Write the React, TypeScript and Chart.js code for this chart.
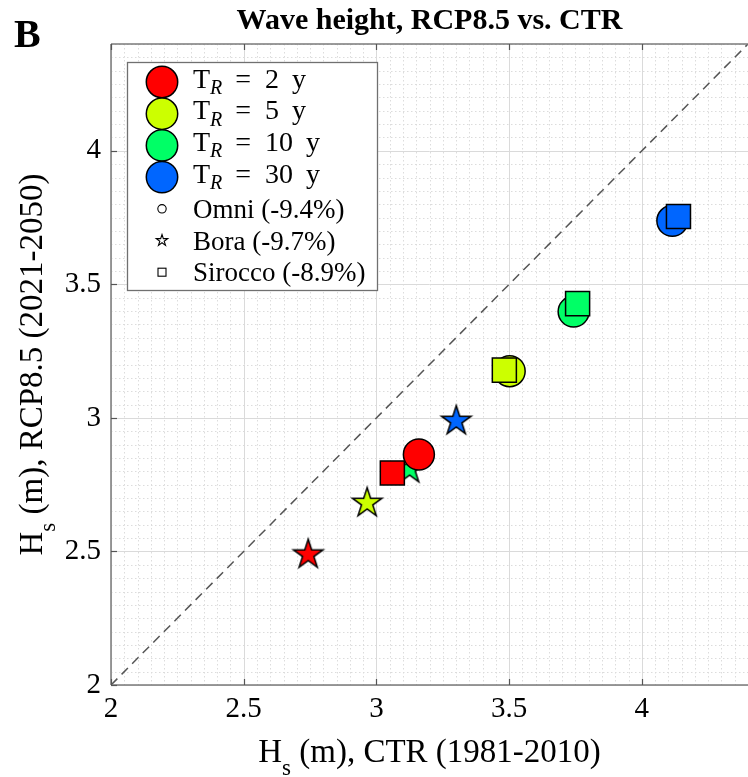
import React, { useEffect, useRef } from 'react';
import { Chart, registerables } from 'chart.js';

Chart.register(...registerables);

// ---------------- data ----------------
const returnPeriods = ['2', '5', '10', '30'];
const periodColors = ['#FF0000', '#CCFF00', '#00FF66', '#0066FF'];

const omniCTR = [3.16, 3.502, 3.743, 4.115];
const omniRCP = [2.863, 3.175, 3.398, 3.738];
const boraCTR = [2.743, 2.965, 3.125, 3.301];
const boraRCP = [2.488, 2.681, 2.808, 2.988];
const siroccoCTR = [3.06, 3.482, 3.758, 4.138];
const siroccoRCP = [2.794, 3.179, 3.428, 3.754];

const directionLabels = ['Omni (-9.4%)', 'Bora (-9.7%)', 'Sirocco (-8.9%)'];

const xTicks = [2, 2.5, 3, 3.5, 4];
const yTicks = [2, 2.5, 3, 3.5, 4];
const axisMin = 2;
const axisMax = 4.4;
const diagonal = [2, 4.4];
const minorStep = 0.05;

const titleText = 'Wave height, RCP8.5 vs. CTR';
const panelLetter = 'B';
const xTitleMain = 'H';
const xTitleSub = 's';
const xTitleRest = ' (m), CTR (1981-2010)';
const yTitleMain = 'H';
const yTitleSub = 's';
const yTitleRest = ' (m), RCP8.5 (2021-2050)';

const SERIF = '"Liberation Serif", "Times New Roman", Times, serif';

// ---------------- helpers ----------------
function starPath(ctx: CanvasRenderingContext2D, cx: number, cy: number, R: number) {
  const r = R * 0.382;
  ctx.beginPath();
  for (let i = 0; i < 10; i++) {
    const ang = -Math.PI / 2 + (i * Math.PI) / 5;
    const rad = i % 2 === 0 ? R : r;
    const px = cx + rad * Math.cos(ang);
    const py = cy + rad * Math.sin(ang);
    if (i === 0) ctx.moveTo(px, py);
    else ctx.lineTo(px, py);
  }
  ctx.closePath();
}

function makeStar(fill: string, R: number, lw: number): HTMLCanvasElement {
  const c = document.createElement('canvas');
  const size = Math.ceil(2 * R + 2 * lw + 4);
  c.width = size;
  c.height = size;
  const g = c.getContext('2d') as CanvasRenderingContext2D;
  starPath(g, size / 2, size / 2, R);
  g.fillStyle = fill;
  g.fill();
  g.lineWidth = lw;
  g.lineJoin = 'miter';
  g.strokeStyle = '#000';
  g.stroke();
  return c;
}

const isMajor = (v: number) => Math.abs(v / 0.5 - Math.round(v / 0.5)) < 1e-6;

const decorPlugin = {
  id: 'matlabDecor',
  beforeDatasetsDraw(chart: any) {
    const { ctx, chartArea: a, scales } = chart;
    const xs = scales.x;
    const ys = scales.y;
    ctx.save();
    const seg = (x1: number, y1: number, x2: number, y2: number) => {
      ctx.beginPath();
      ctx.moveTo(x1, y1);
      ctx.lineTo(x2, y2);
      ctx.stroke();
    };
    // minor grid (dotted)
    ctx.lineWidth = 1;
    ctx.strokeStyle = '#dcdcdc';
    ctx.setLineDash([1.5, 2.5]);
    const n = Math.round((axisMax - axisMin) / minorStep);
    for (let i = 1; i <= n; i++) {
      const v = axisMin + i * minorStep;
      if (isMajor(v)) continue;
      const px = Math.round(xs.getPixelForValue(v)) + 0.5;
      if (px < a.right) seg(px, a.top, px, a.bottom);
      const py = Math.round(ys.getPixelForValue(v)) + 0.5;
      if (py > a.top) seg(a.left, py, a.right, py);
    }
    // major grid (solid)
    ctx.setLineDash([]);
    ctx.strokeStyle = '#dadada';
    for (const v of xTicks) {
      const px = Math.round(xs.getPixelForValue(v)) + 0.5;
      seg(px, a.top, px, a.bottom);
    }
    for (const v of yTicks) {
      const py = Math.round(ys.getPixelForValue(v)) + 0.5;
      seg(a.left, py, a.right, py);
    }
    ctx.restore();
  },
  afterDatasetsDraw(chart: any) {
    const { ctx, chartArea: a, scales } = chart;
    const xs = scales.x;
    const ys = scales.y;
    ctx.save();
    const seg = (x1: number, y1: number, x2: number, y2: number) => {
      ctx.beginPath();
      ctx.moveTo(x1, y1);
      ctx.lineTo(x2, y2);
      ctx.stroke();
    };
    // axes box
    ctx.strokeStyle = '#7a7a7a';
    ctx.lineWidth = 1.5;
    seg(a.left, a.top, a.right, a.top);
    seg(a.left, a.top, a.left, a.bottom);
    seg(a.left, a.bottom, a.right, a.bottom);
    // inward ticks
    ctx.strokeStyle = '#555';
    ctx.lineWidth = 1.2;
    const tl = 6;
    for (const v of xTicks) {
      const px = Math.round(xs.getPixelForValue(v)) + 0.5;
      seg(px, a.bottom, px, a.bottom - tl);
      seg(px, a.top, px, a.top + tl);
    }
    for (const v of yTicks) {
      const py = Math.round(ys.getPixelForValue(v)) + 0.5;
      seg(a.left, py, a.left + tl, py);
    }

    // legend
    const lx = a.left + 16;
    const ly = a.top + 18;
    const lw = 250;
    const lh = 228;
    ctx.fillStyle = '#fff';
    ctx.fillRect(lx, ly, lw, lh);
    ctx.strokeStyle = '#707070';
    ctx.lineWidth = 1.3;
    ctx.strokeRect(lx + 0.5, ly + 0.5, lw, lh);
    const markerX = lx + 35;
    const textX = lx + 66;
    const row0 = ly + 20;
    const rowH = 31.7;
    ctx.fillStyle = '#000';
    ctx.textAlign = 'left';
    ctx.textBaseline = 'alphabetic';
    returnPeriods.forEach((p, i) => {
      const cy = row0 + i * rowH;
      ctx.beginPath();
      ctx.arc(markerX, cy, 15.7, 0, Math.PI * 2);
      ctx.fillStyle = periodColors[i];
      ctx.fill();
      ctx.lineWidth = 1.5;
      ctx.strokeStyle = '#000';
      ctx.stroke();
      ctx.fillStyle = '#000';
      const base = cy + 5.5;
      ctx.font = `28px ${SERIF}`;
      ctx.fillText('T', textX, base);
      let xx = textX + ctx.measureText('T').width;
      ctx.font = `italic 20px ${SERIF}`;
      ctx.fillText('R', xx, base + 6.5);
      xx += ctx.measureText('R').width + 13;
      ctx.font = `28px ${SERIF}`;
      ctx.fillText('=', xx, base);
      xx += ctx.measureText('=').width + 14;
      ctx.fillText(p, xx, base);
      xx += ctx.measureText(p).width + 13;
      ctx.fillText('y', xx, base);
    });
    directionLabels.forEach((lab, j) => {
      const cy = row0 + (returnPeriods.length + j) * rowH;
      ctx.strokeStyle = '#000';
      ctx.fillStyle = '#fff';
      ctx.lineWidth = 1.1;
      if (j === 0) {
        ctx.beginPath();
        ctx.arc(markerX, cy, 4.2, 0, Math.PI * 2);
        ctx.fill();
        ctx.stroke();
      } else if (j === 1) {
        starPath(ctx, markerX, cy, 6);
        ctx.fill();
        ctx.stroke();
      } else {
        ctx.fillRect(markerX - 4, cy - 4, 8, 8);
        ctx.strokeRect(markerX - 4, cy - 4, 8, 8);
      }
      ctx.fillStyle = '#000';
      ctx.font = `27px ${SERIF}`;
      ctx.fillText(lab, textX, cy + 9);
    });
    ctx.restore();
  },
  afterDraw(chart: any) {
    const { ctx, chartArea: a } = chart;
    ctx.save();
    ctx.fillStyle = '#000';
    ctx.textBaseline = 'alphabetic';
    // panel letter
    ctx.textAlign = 'left';
    ctx.font = `bold 40px ${SERIF}`;
    ctx.fillText(panelLetter, 14, 47);
    // title
    ctx.textAlign = 'center';
    ctx.font = `bold 30px ${SERIF}`;
    ctx.fillText(titleText, (a.left + a.right) / 2, 29);

    const drawComposite = (main: string, sub: string, rest: string, cx: number, base: number) => {
      ctx.textAlign = 'left';
      ctx.font = `33px ${SERIF}`;
      const wMain = ctx.measureText(main).width;
      const wRest = ctx.measureText(rest).width;
      ctx.font = `23px ${SERIF}`;
      const wSub = ctx.measureText(sub).width;
      const total = wMain + wSub + wRest;
      let x0 = cx - total / 2;
      ctx.font = `33px ${SERIF}`;
      ctx.fillText(main, x0, base);
      x0 += wMain;
      ctx.font = `23px ${SERIF}`;
      ctx.fillText(sub, x0, base + 13);
      x0 += wSub;
      ctx.font = `33px ${SERIF}`;
      ctx.fillText(rest, x0, base);
    };
    drawComposite(xTitleMain, xTitleSub, xTitleRest, (a.left + a.right) / 2, 762);
    ctx.save();
    ctx.translate(42, (a.top + a.bottom) / 2);
    ctx.rotate(-Math.PI / 2);
    drawComposite(yTitleMain, yTitleSub, yTitleRest, 0, 0);
    ctx.restore();
    ctx.restore();
  },
};

export default function App() {
  const canvasRef = useRef<HTMLCanvasElement | null>(null);

  useEffect(() => {
    const canvas = canvasRef.current;
    if (!canvas) return;
    const stars = periodColors.map((c) => makeStar(c, 15.5, 1.5));
    const toPts = (xsArr: number[], ysArr: number[]) => xsArr.map((v, i) => ({ x: v, y: ysArr[i] }));

    const tickFont = { family: SERIF, size: 29 };
    const chart = new Chart(canvas, {
      type: 'scatter',
      data: {
        datasets: [
          {
            label: '1:1',
            data: diagonal.map((v) => ({ x: v, y: v })),
            showLine: true,
            borderColor: '#555555',
            borderWidth: 1.5,
            borderDash: [9, 6],
            pointRadius: 0,
            order: 3,
          } as any,
          {
            label: 'Bora',
            data: toPts(boraCTR, boraRCP),
            pointStyle: stars as any,
            pointRadius: 15,
            pointBackgroundColor: periodColors,
            pointBorderColor: '#000',
            order: 2,
          },
          {
            label: 'Omni',
            data: toPts(omniCTR, omniRCP),
            pointStyle: 'circle',
            pointRadius: 15.5,
            pointBackgroundColor: periodColors,
            pointBorderColor: '#000',
            pointBorderWidth: 1.5,
            order: 1,
          },
          {
            label: 'Sirocco',
            data: toPts(siroccoCTR, siroccoRCP),
            pointStyle: 'rect',
            pointRadius: 17,
            pointBackgroundColor: periodColors,
            pointBorderColor: '#000',
            pointBorderWidth: 1.5,
            order: 0,
          },
        ],
      },
      options: {
        responsive: false,
        animation: false,
        devicePixelRatio: 1,
        layout: { autoPadding: false, padding: { left: 0, right: 0, top: 44, bottom: 0 } },
        plugins: {
          legend: { display: false },
          tooltip: { enabled: false },
          title: { display: false },
        },
        scales: {
          x: {
            type: 'linear',
            min: axisMin,
            max: axisMax,
            afterBuildTicks: (s: any) => {
              s.ticks = xTicks.map((v) => ({ value: v }));
            },
            afterFit: (s: any) => {
              s.height = 92;
              s.paddingLeft = 0;
              s.paddingRight = 0;
            },
            ticks: {
              font: tickFont,
              color: '#000',
              padding: 7,
              maxRotation: 0,
              autoSkip: false,
              callback: (v: any) => String(v),
            },
            grid: { display: false, drawTicks: false },
            border: { display: false },
          },
          y: {
            type: 'linear',
            min: axisMin,
            max: axisMax,
            afterBuildTicks: (s: any) => {
              s.ticks = yTicks.map((v) => ({ value: v }));
            },
            afterFit: (s: any) => {
              s.width = 111;
              s.paddingTop = 0;
              s.paddingBottom = 0;
            },
            ticks: {
              font: tickFont,
              color: '#000',
              padding: 10,
              autoSkip: false,
              callback: (v: any) => String(v),
            },
            grid: { display: false, drawTicks: false },
            border: { display: false },
          },
        },
      },
      plugins: [decorPlugin],
    });
    return () => chart.destroy();
  }, []);

  return (
    <div style={{ position: 'fixed', left: 0, top: 0, width: 748, height: 777, background: '#fff' }}>
      <canvas ref={canvasRef} width={748} height={777} style={{ width: 748, height: 777, display: 'block' }} />
    </div>
  );
}
